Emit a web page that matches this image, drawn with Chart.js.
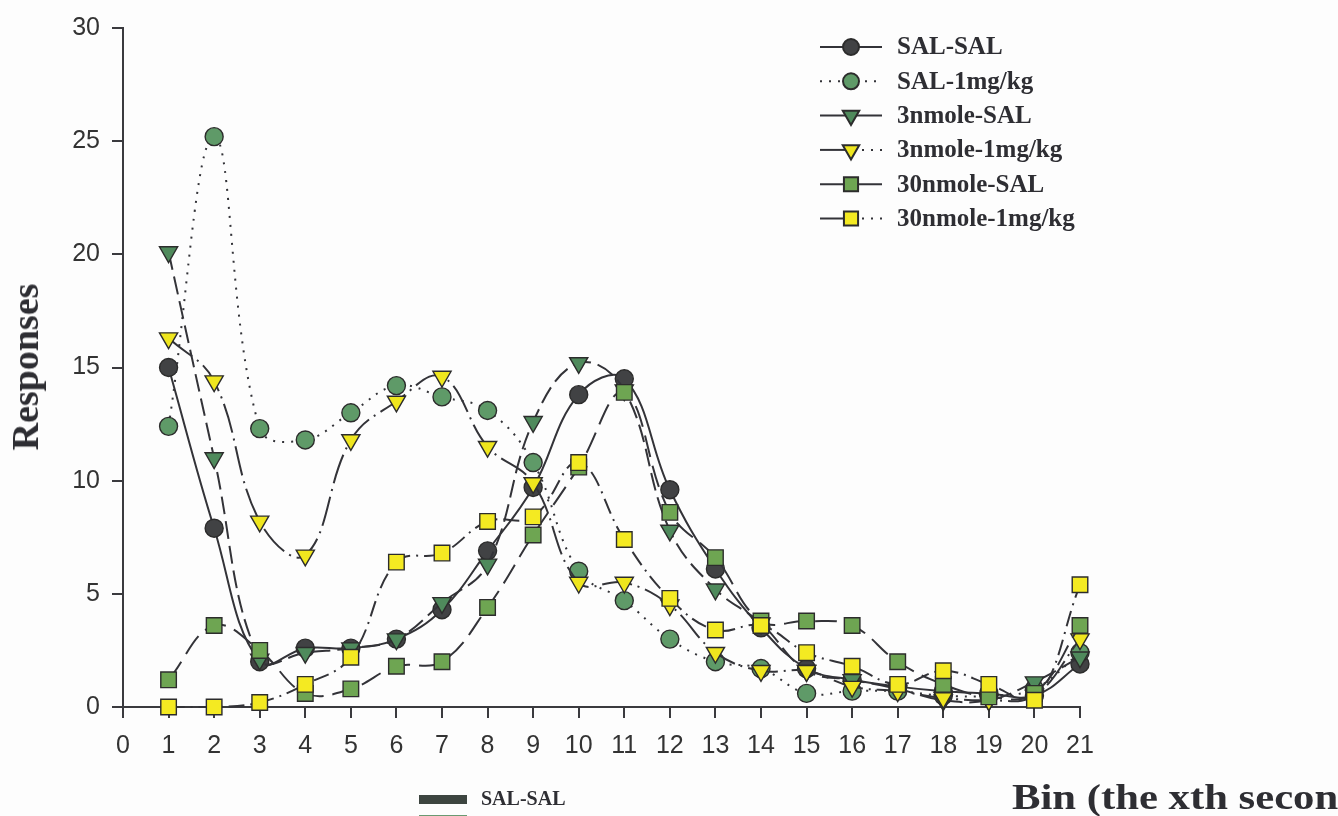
<!DOCTYPE html>
<html>
<head>
<meta charset="utf-8">
<script src="https://cdn.jsdelivr.net/npm/chart.js@4.4.1/dist/chart.umd.min.js"></script>
<style>
  html, body { margin: 0; padding: 0; background: #fdfdfd; overflow: hidden; }
  #wrap { position: relative; width: 1338px; height: 816px; overflow: hidden; background: #fdfdfd; }
  canvas { position: absolute; left: 0; top: 0; }
  .serif { position: absolute; white-space: nowrap; line-height: 1;
           font-family: "Liberation Serif", "Times New Roman", serif; font-weight: bold; color: #2e2e33; }
  #ytitle { left: 25px; top: 367px; font-size: 38px; transform: translate(-50%, -50%) rotate(-90deg); }
  #xtitle { left: 1012px; top: 780px; font-size: 35px; transform: scaleX(1.22); transform-origin: 0 50%; }
  .mini { font-size: 20px; }
  .bar { position: absolute; width: 48px; height: 9px; }
</style>
</head>
<body>
<div id="wrap">
  <canvas id="chart" width="1338" height="816"></canvas>
  <div id="ytitle" class="serif">Responses</div>
  <div id="xtitle" class="serif">Bin (the xth second)</div>
  <div class="bar" style="left:419px;top:795px;background:#3d4540;"></div>
  <div class="serif mini" style="left:481px;top:788px;">SAL-SAL</div>
  <div class="bar" style="left:419px;top:815px;background:#6a9a72;"></div>
  <div class="serif mini" style="left:481px;top:814px;">SAL-1mg/kg</div>
</div>
<script>
// bins (x values) and the six series
const bins = [1, 2, 3, 4, 5, 6, 7, 8, 9, 10, 11, 12, 13, 14, 15, 16, 17, 18, 19, 20, 21];
const salSal     = [15.0, 7.9, 2.0, 2.6, 2.6, 3.0, 4.3, 6.9, 9.7, 13.8, 14.5, 9.6, 6.1, 3.5, 1.7, 1.2, 0.9, 0.7, 0.6, 0.5, 1.9];
const sal1mg     = [12.4, 25.2, 12.3, 11.8, 13.0, 14.2, 13.7, 13.1, 10.8, 6.0, 4.7, 3.0, 2.0, 1.7, 0.6, 0.7, 0.7, 0.5, 0.5, 0.8, 2.4];
const nm3Sal     = [20.1, 11.0, 2.1, 2.4, 2.6, 3.0, 4.6, 6.3, 12.6, 15.2, 14.0, 7.8, 5.2, 3.7, 1.6, 1.2, 0.8, 0.3, 0.3, 1.1, 2.2];
const nm3_1mg    = [16.3, 14.4, 8.2, 6.7, 11.8, 13.5, 14.6, 11.5, 9.9, 5.5, 5.5, 4.5, 2.4, 1.6, 1.6, 0.9, 0.7, 0.4, 0.3, 0.5, 3.0];
const nm30Sal    = [1.2, 3.6, 2.5, 0.6, 0.8, 1.8, 2.0, 4.4, 7.6, 10.6, 13.9, 8.6, 6.6, 3.8, 3.8, 3.6, 2.0, 1.0, 0.45, 0.6, 3.6];
const nm30_1mg   = [0.0, 0.0, 0.2, 1.0, 2.2, 6.4, 6.8, 8.2, 8.4, 10.8, 7.4, 4.8, 3.4, 3.6, 2.4, 1.8, 1.0, 1.6, 1.0, 0.3, 5.4];

const labels = ["SAL-SAL", "SAL-1mg/kg", "3nmole-SAL", "3nmole-1mg/kg", "30nmole-SAL", "30nmole-1mg/kg"];
const seriesValues = [salSal, sal1mg, nm3Sal, nm3_1mg, nm30Sal, nm30_1mg];

const ink = "#333338";
const styles = [
  { fill: "#414244", shape: "circle",   rot: 0,   r: 9,    dash: [] },
  { fill: "#5f9a68", shape: "circle",   rot: 0,   r: 9,    dash: [2, 7] },
  { fill: "#4f8a5c", shape: "triangle", rot: 180, r: 10.5, dash: [18, 7] },
  { fill: "#efe61e", shape: "triangle", rot: 180, r: 10.5, dash: [30, 6, 2, 6] },
  { fill: "#6ea552", shape: "rect",     rot: 0,   r: 11,   dash: [22, 9] },
  { fill: "#f4ea22", shape: "rect",     rot: 0,   r: 11,   dash: [16, 6, 2, 6] }
];

const datasets = seriesValues.map((vals, i) => ({
  label: labels[i],
  data: vals.map((v, j) => ({ x: bins[j], y: v })),
  borderColor: ink,
  borderWidth: 2,
  borderDash: styles[i].dash,
  tension: 0.4,
  fill: false,
  pointStyle: styles[i].shape,
  pointRotation: styles[i].rot,
  pointRadius: styles[i].r,
  pointBackgroundColor: styles[i].fill,
  pointBorderColor: "#2c2c2c",
  pointBorderWidth: 1.4,
  clip: false,
  order: 6 - i
}));

// legend drawn inside the plot, top right
const plotLegend = {
  id: "plotLegend",
  afterDraw(chart) {
    const ctx = chart.ctx;
    ctx.save();
    labels.forEach((name, i) => {
      const y = 47 + i * 34.3;
      const st = styles[i];
      ctx.strokeStyle = ink;
      ctx.lineWidth = 2;
      if (i === 1) {
        ctx.setLineDash([2, 7]);
        ctx.beginPath(); ctx.moveTo(820, y); ctx.lineTo(882, y); ctx.stroke();
      } else if (i === 3 || i === 5) {
        ctx.setLineDash([]);
        ctx.beginPath(); ctx.moveTo(820, y); ctx.lineTo(851, y); ctx.stroke();
        ctx.setLineDash([2, 7]);
        ctx.beginPath(); ctx.moveTo(862, y); ctx.lineTo(882, y); ctx.stroke();
      } else {
        ctx.setLineDash([]);
        ctx.beginPath(); ctx.moveTo(820, y); ctx.lineTo(882, y); ctx.stroke();
      }
      ctx.setLineDash([]);
      ctx.fillStyle = st.fill;
      ctx.strokeStyle = "#2c2c2c";
      Chart.helpers.drawPoint(ctx, { pointStyle: st.shape, rotation: st.rot, radius: st.r - 1, borderWidth: 1.4 }, 851, y);
      ctx.fillStyle = "#2e2e33";
      ctx.font = "bold 25px 'Liberation Serif', 'Times New Roman', serif";
      ctx.textBaseline = "middle";
      ctx.textAlign = "left";
      ctx.fillText(name, 897, y + 1);
    });
    ctx.restore();
  }
};

const axisInk = "#3a3a3e";
const tickFont = { family: "'Liberation Sans', Arial, sans-serif", size: 25 };

new Chart(document.getElementById("chart"), {
  type: "line",
  data: { datasets },
  options: {
    responsive: false,
    animation: false,
    layout: { padding: { left: 0, top: 28, right: 258, bottom: 0 } },
    plugins: { legend: { display: false }, tooltip: { enabled: false } },
    scales: {
      x: {
        type: "linear", min: 0, max: 21,
        ticks: { stepSize: 1, autoSkip: false, maxRotation: 0, color: "#333", font: tickFont, padding: 13 },
        grid: { drawOnChartArea: false, drawTicks: true, tickLength: 11, color: axisInk, lineWidth: 2 },
        border: { display: true, color: axisInk, width: 2 },
        afterFit(scale) { scale.height = 109; }
      },
      y: {
        min: 0, max: 30,
        ticks: { stepSize: 5, color: "#333", font: tickFont, padding: 12 },
        grid: { drawOnChartArea: false, drawTicks: true, tickLength: 11, color: axisInk, lineWidth: 2 },
        border: { display: true, color: axisInk, width: 2 },
        afterFit(scale) { scale.width = 123; }
      }
    }
  },
  plugins: [plotLegend]
});
</script>
</body>
</html>
